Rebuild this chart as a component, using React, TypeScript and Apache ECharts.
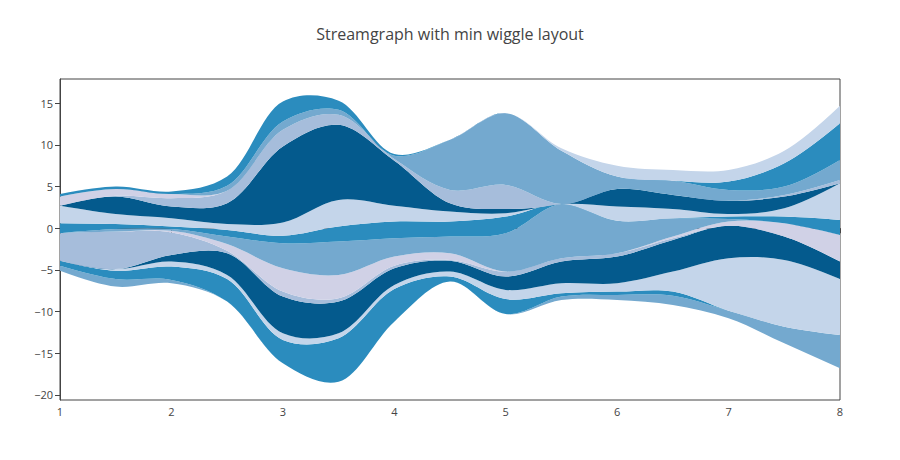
import React, { useEffect, useRef } from "react";
import * as echarts from "echarts";

// x positions of the samples (axis ticks are the integers 1..8)
const xSamples = [1, 1.5, 2, 2.5, 3, 3.5, 4, 4.5, 5, 5.5, 6, 6.5, 7, 7.5, 8];
const yTicks = [-20, -15, -10, -5, 0, 5, 10, 15];

// Stream boundaries (cumulative y of each trace), bottom to top
const base = [-5.1, -7.0, -6.6, -8.8, -16.2, -18.4, -11.2, -6.4, -10.3, -8.6, -8.6, -9.2, -10.8, -13.8, -16.8];
const top01 = [-4.5, -6.1, -6.2, -8.8, -16.2, -18.4, -11.2, -6.4, -10.3, -8.2, -8.0, -8.1, -9.9, -11.8, -12.8];
const top02 = [-3.9, -5.1, -4.6, -6.1, -13.4, -13.2, -7.3, -5.8, -8.5, -7.8, -7.6, -7.6, -9.9, -11.8, -12.8];
const top03 = [-3.9, -4.9, -4.0, -5.6, -12.6, -12.6, -6.8, -5.2, -7.4, -6.6, -6.6, -5.2, -3.6, -3.8, -6.1];
const top04 = [-3.9, -4.9, -3.2, -3.0, -8.2, -8.8, -4.8, -3.9, -5.8, -4.0, -3.4, -1.4, 0.3, -1.0, -4.0];
const top05 = [-0.6, -0.4, -0.5, -2.7, -7.6, -8.4, -4.5, -3.8, -5.2, -3.6, -3.0, -1.2, 0.3, -1.0, -4.0];
const top06 = [-0.6, -0.4, -0.3, -1.9, -4.8, -5.6, -3.4, -3.0, -5.2, -3.6, -3.0, -1.0, 0.8, 0.6, -0.8];
const top07 = [-0.6, -0.1, -0.1, -1.0, -1.8, -1.6, -1.2, -1.0, -0.6, 2.9, 0.9, 1.2, 1.1, 0.6, -0.8];
const top08 = [0.6, 0.5, 0.2, -0.2, -0.9, 0.2, 0.8, 0.8, 1.4, 2.9, 0.9, 1.2, 1.4, 1.4, 1.0];
const top09 = [2.7, 1.7, 1.2, 0.5, 0.7, 3.4, 2.7, 2.0, 1.8, 2.9, 2.6, 2.3, 1.7, 2.4, 5.4];
const top10 = [2.7, 3.8, 2.6, 3.0, 9.8, 12.4, 8.1, 3.0, 2.3, 2.9, 4.7, 4.0, 3.3, 3.8, 5.4];
const top11 = [2.7, 3.9, 3.6, 4.5, 11.8, 13.6, 8.3, 4.6, 5.2, 2.9, 4.7, 4.0, 3.3, 4.0, 5.8];
const top12 = [3.8, 4.7, 4.1, 4.5, 11.8, 13.6, 8.3, 4.6, 5.2, 2.9, 4.7, 4.0, 3.3, 4.0, 5.8];
const top13 = [3.8, 4.7, 4.1, 5.1, 12.8, 14.2, 8.7, 10.6, 13.8, 9.3, 6.2, 5.7, 4.6, 5.0, 8.2];
const top14 = [4.1, 5.0, 4.4, 6.2, 15.2, 15.3, 8.9, 10.6, 13.8, 9.3, 6.2, 5.7, 5.6, 7.8, 12.6];
const top15 = [4.1, 5.0, 4.4, 6.2, 15.2, 15.3, 8.9, 10.6, 13.8, 9.6, 7.5, 7.0, 7.0, 9.3, 14.7];

const boundaries = [base, top01, top02, top03, top04, top05, top06, top07, top08, top09, top10, top11, top12, top13, top14, top15];

const LIGHT = "#c4d5ea";
const layerColors = [
  "#74a9cf", "#2b8cbe", LIGHT, "#045a8d", "#a6bddb", "#d0d1e6",
  "#74a9cf", "#2b8cbe", LIGHT, "#045a8d", "#a6bddb", "#d0d1e6",
  "#74a9cf", "#2b8cbe", LIGHT,
];

const FONT = "'Open Sans', Verdana, Arial, sans-serif";
const isWhole = (v: string) => Number.isInteger(Number(v));

type Pt = number[];

// Catmull-Rom style spline (centripetal), as used for "spline" line shapes
function makeTangent(p0: Pt, p1: Pt, p2: Pt, s: number): [Pt, Pt] {
  const d1x = p0[0] - p1[0], d1y = p0[1] - p1[1];
  const d2x = p2[0] - p1[0], d2y = p2[1] - p1[1];
  const d1a = Math.pow(d1x * d1x + d1y * d1y, 0.25);
  const d2a = Math.pow(d2x * d2x + d2y * d2y, 0.25);
  const numx = (d2a * d2a * d1x - d1a * d1a * d2x) * s;
  const numy = (d2a * d2a * d1y - d1a * d1a * d2y) * s;
  const den1 = 3 * d2a * (d1a + d2a);
  const den2 = 3 * d1a * (d1a + d2a);
  return [
    [p1[0] + (den1 && numx / den1), p1[1] + (den1 && numy / den1)],
    [p1[0] - (den2 && numx / den2), p1[1] - (den2 && numy / den2)],
  ];
}

function smoothOpen(pts: Pt[], s: number): string {
  const f = (p: Pt) => p[0].toFixed(2) + "," + p[1].toFixed(2);
  if (pts.length < 3) return "M" + pts.map(f).join("L");
  const tg: [Pt, Pt][] = [];
  for (let i = 1; i < pts.length - 1; i++) tg.push(makeTangent(pts[i - 1], pts[i], pts[i + 1], s));
  let d = "M" + f(pts[0]) + "Q" + f(tg[0][0]) + " " + f(pts[1]);
  for (let i = 2; i < pts.length - 1; i++) {
    d += "C" + f(tg[i - 2][1]) + " " + f(tg[i - 1][0]) + " " + f(pts[i]);
  }
  d += "Q" + f(tg[pts.length - 3][1]) + " " + f(pts[pts.length - 1]);
  return d;
}

export default function App() {
  const ref = useRef<HTMLDivElement>(null);
  useEffect(() => {
    document.body.style.margin = "0";
    const chart = echarts.init(ref.current!, null, { renderer: "svg" });
    const n = xSamples.length;
    const series = layerColors.map((color, li) => {
      const lower = boundaries[li];
      const upper = boundaries[li + 1];
      return {
        type: "custom",
        name: "layer " + (li + 1),
        silent: true,
        clip: true,
        encode: { x: 0, y: [1, 2] },
        data: xSamples.map((_x, i) => [i, lower[i], upper[i]]),
        renderItem: (params: any, api: any) => {
          if (params.dataIndexInside !== 0) return null;
          const up: Pt[] = [];
          const lo: Pt[] = [];
          for (let i = 0; i < n; i++) {
            up.push(api.coord([api.value(0, i), api.value(2, i)]));
            lo.push(api.coord([api.value(0, i), api.value(1, i)]));
          }
          const rev = lo.slice().reverse();
          const d = smoothOpen(up, 1) + "L" + smoothOpen(rev, 1).slice(1) + "Z";
          return { type: "path", shape: { pathData: d }, style: { fill: color, stroke: null } };
        },
      };
    });
    chart.setOption({
      animation: false,
      title: {
        text: "Streamgraph with min wiggle layout",
        left: "center",
        top: 19,
        textStyle: { fontFamily: FONT, fontSize: 16, fontWeight: "normal", color: "#444", lineHeight: 20 },
      },
      grid: { left: 60, right: 60, top: 79, bottom: 60, show: true, borderColor: "#444", borderWidth: 1, backgroundColor: "transparent" },
      xAxis: {
        type: "category",
        boundaryGap: false,
        data: xSamples.map(String),
        axisLine: { show: true, lineStyle: { color: "#444", width: 1 } },
        axisTick: { show: true, inside: false, length: 5, interval: (_i: number, v: string) => isWhole(v), lineStyle: { color: "#444" } },
        axisLabel: { interval: (_i: number, v: string) => isWhole(v), color: "#444", fontSize: 11, fontFamily: FONT, margin: 6 },
        splitLine: { show: false },
      },
      yAxis: {
        type: "value",
        min: -20.6,
        max: 17.9,
        axisLine: { show: true, lineStyle: { color: "#444", width: 1 } },
        axisTick: { show: true, length: 5, customValues: yTicks, lineStyle: { color: "#444" } },
        axisLabel: {
          customValues: yTicks,
          color: "#444",
          fontSize: 11,
          fontFamily: FONT,
          margin: 7,
          formatter: (v: number) => (v < 0 ? "\u2212" + Math.abs(v) : String(v)),
        },
        splitLine: { show: false },
      },
      series,
    });
    return () => chart.dispose();
  }, []);
  return <div ref={ref} style={{ width: 900, height: 460 }} />;
}
